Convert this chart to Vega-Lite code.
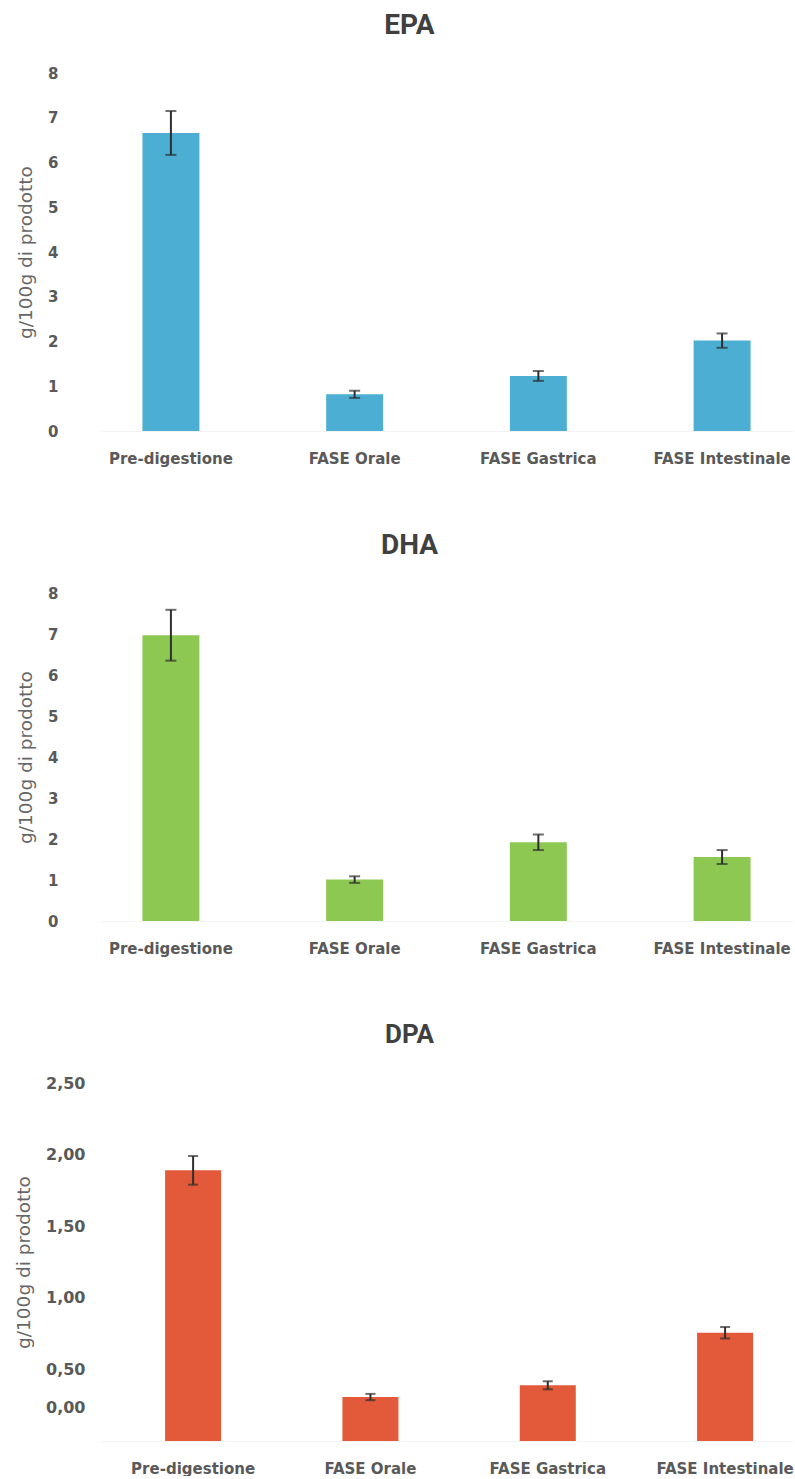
{
  "$schema": "https://vega.github.io/schema/vega-lite/v6.json",
  "background": "white",
  "padding": {"left": 14, "top": 12, "right": 5, "bottom": 0},
  "spacing": 66,
  "config": {
    "view": {"stroke": null},
    "axis": {"grid": false},
    "title": {"font": "Roboto", "fontWeight": "bold", "color": "#404040", "baseline": "alphabetic"}
  },
  "datasets": {
    "epa": [
      {"phase": "Pre-digestione", "value": 6.66, "err": 0.49},
      {"phase": "FASE Orale", "value": 0.82, "err": 0.08},
      {"phase": "FASE Gastrica", "value": 1.23, "err": 0.11},
      {"phase": "FASE Intestinale", "value": 2.02, "err": 0.16}
    ],
    "dha": [
      {"phase": "Pre-digestione", "value": 6.97, "err": 0.62},
      {"phase": "FASE Orale", "value": 1.01, "err": 0.08},
      {"phase": "FASE Gastrica", "value": 1.92, "err": 0.19},
      {"phase": "FASE Intestinale", "value": 1.56, "err": 0.17}
    ],
    "dpa": [
      {"phase": "Pre-digestione", "value": 1.89, "err": 0.1},
      {"phase": "FASE Orale", "value": 0.307, "err": 0.022},
      {"phase": "FASE Gastrica", "value": 0.389, "err": 0.028},
      {"phase": "FASE Intestinale", "value": 0.756, "err": 0.04}
    ]
  },
  "vconcat": [
    {
      "width": 693,
      "height": 358,
      "data": {"name": "epa"},
      "title": {"text": "EPA", "fontSize": 28, "offset": 26, "dx": -37},
      "encoding": {
        "x": {
          "field": "phase", "type": "nominal", "sort": null,
          "scale": {"paddingInner": 0.69, "paddingOuter": 0.231, "align": 0.5},
          "axis": {"title": null, "labelAngle": 0, "ticks": false, "domainColor": "#f3f3f3", "labelPadding": 20, "labelFont": "DejaVu Sans", "labelFontWeight": "bold", "labelFontSize": 15, "labelColor": "#595959"}
        },
        "y": {
          "field": "value", "type": "quantitative",
          "scale": {"domain": [0, 8], "nice": false},
          "axis": {"title": "g/100g di prodotto", "values": [0, 1, 2, 3, 4, 5, 6, 7, 8], "ticks": false, "domain": false, "offset": 39, "labelPadding": 3, "labelFont": "DejaVu Sans", "labelFontWeight": "bold", "labelFontSize": 15, "labelColor": "#595959", "titleFont": "DejaVu Sans", "titleFontWeight": "normal", "titleFontSize": 18.5, "titleColor": "#666666", "titleX": -26}
        }
      },
      "layer": [
        {"mark": {"type": "bar", "color": "#4BAED2"}},
        {"mark": {"type": "errorbar", "ticks": true, "thickness": 2, "size": 11, "color": "#2f2f2f"}, "encoding": {"yError": {"field": "err"}}}
      ]
    },
    {
      "width": 693,
      "height": 328,
      "data": {"name": "dha"},
      "title": {"text": "DHA", "fontSize": 28, "offset": 26, "dx": -37},
      "encoding": {
        "x": {
          "field": "phase", "type": "nominal", "sort": null,
          "scale": {"paddingInner": 0.69, "paddingOuter": 0.231, "align": 0.5},
          "axis": {"title": null, "labelAngle": 0, "ticks": false, "domainColor": "#f3f3f3", "labelPadding": 20, "labelFont": "DejaVu Sans", "labelFontWeight": "bold", "labelFontSize": 15, "labelColor": "#595959"}
        },
        "y": {
          "field": "value", "type": "quantitative",
          "scale": {"domain": [0, 8], "nice": false},
          "axis": {"title": "g/100g di prodotto", "values": [0, 1, 2, 3, 4, 5, 6, 7, 8], "ticks": false, "domain": false, "offset": 39, "labelPadding": 3, "labelFont": "DejaVu Sans", "labelFontWeight": "bold", "labelFontSize": 15, "labelColor": "#595959", "titleFont": "DejaVu Sans", "titleFontWeight": "normal", "titleFontSize": 18.5, "titleColor": "#666666", "titleX": -26}
        }
      },
      "layer": [
        {"mark": {"type": "bar", "color": "#8DC853"}},
        {"mark": {"type": "errorbar", "ticks": true, "thickness": 2, "size": 11, "color": "#2f2f2f"}, "encoding": {"yError": {"field": "err"}}}
      ]
    },
    {
      "width": 693,
      "height": 358,
      "data": {"name": "dpa"},
      "title": {"text": "DPA", "fontSize": 26, "offset": 27, "dx": -37},
      "encoding": {
        "x": {
          "field": "phase", "type": "nominal", "sort": null,
          "scale": {"paddingInner": 0.684, "paddingOuter": 0.296, "align": 0.62},
          "axis": {"title": null, "labelAngle": 0, "ticks": false, "domainColor": "#f3f3f3", "labelPadding": 20, "labelFont": "DejaVu Sans", "labelFontWeight": "bold", "labelFontSize": 15, "labelColor": "#595959"}
        },
        "y": {
          "field": "value", "type": "quantitative",
          "scale": {"domain": [0, 2.5], "nice": false},
          "axis": {"title": "g/100g di prodotto", "values": [0, 0.5, 1, 1.5, 2, 2.5], "labelExpr": "replace(format(datum.value, '.2f'), '.', ',')", "labelOffset": {"condition": {"test": "datum.value === 0", "value": -34}, "value": 0}, "ticks": false, "domain": false, "offset": 12, "labelPadding": 3, "labelFont": "DejaVu Sans", "labelFontWeight": "bold", "labelFontSize": 16, "labelColor": "#595959", "titleFont": "DejaVu Sans", "titleFontWeight": "normal", "titleFontSize": 18.5, "titleColor": "#666666", "titleX": -55}
        }
      },
      "layer": [
        {"mark": {"type": "bar", "color": "#E25A3A"}},
        {"mark": {"type": "errorbar", "ticks": true, "thickness": 2, "size": 10, "color": "#2f2f2f"}, "encoding": {"yError": {"field": "err"}}}
      ]
    }
  ]
}
